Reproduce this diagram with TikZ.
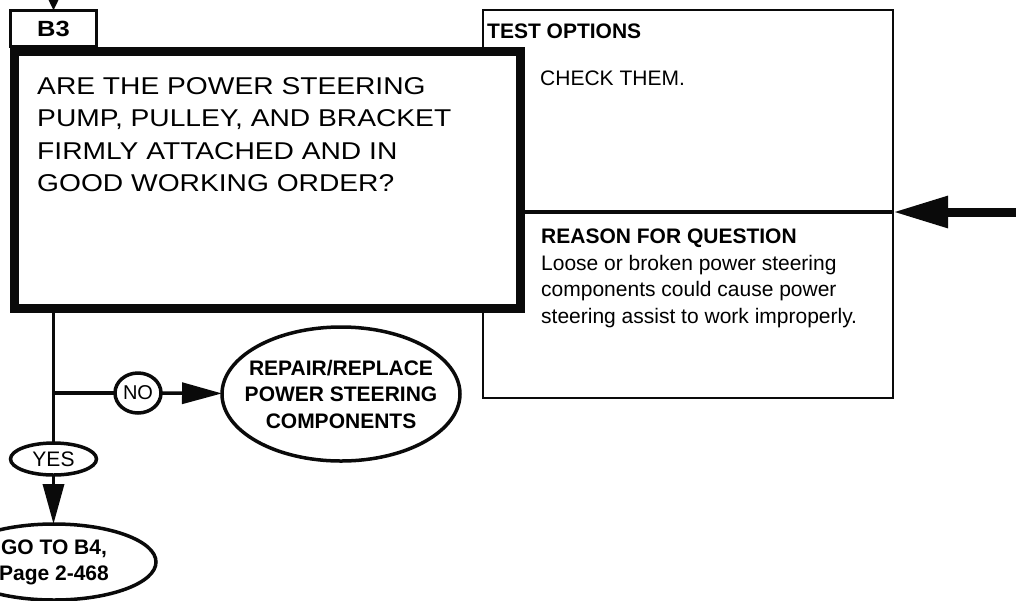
\documentclass[tikz,border=0pt]{standalone}
\usepackage{fontspec}
\setmainfont{Liberation Sans}
\newfontfamily\wideface[FakeStretch=1.16]{Liberation Sans}
\usepackage{xcolor}
\definecolor{cInk}{HTML}{0A0A0A}
\usetikzlibrary{positioning,arrows.meta,shapes.geometric}
\tikzset{
  node-tab/.style={draw=cInk,line width=2.5pt,minimum width=86pt,minimum height=36pt,
    inner sep=0pt,outer sep=0pt,font=\wideface\bfseries\fontsize{22}{24}\selectfont},
  node-question/.style={draw=cInk,line width=9pt,fill=white,minimum width=506pt,
    minimum height=257pt,inner sep=0pt,outer sep=0pt},
  node-panel/.style={draw=cInk,line width=2.5pt,minimum width=410pt,inner sep=0pt,outer sep=0pt},
  node-oval/.style={draw=cInk,ellipse,line width=3.5pt,inner sep=0pt,outer sep=0pt,align=center},
  text-question/.style={anchor=north west,align=left,inner sep=0pt,
    font=\wideface\fontsize{24.3}{32.5}\selectfont},
  text-head/.style={anchor=west,inner sep=0pt,font=\bfseries\fontsize{21}{24}\selectfont},
  text-plain/.style={anchor=west,inner sep=0pt,font=\fontsize{21}{24}\selectfont},
  text-body/.style={anchor=north west,align=left,inner sep=0pt,font=\fontsize{21}{26.5}\selectfont},
  flow/.style={draw=cInk,line width=3.5pt},
  arrow/.style={-{Triangle[length=40pt,width=21pt]},flow},
  arrow-feed/.style={-{Triangle[length=55pt,width=30pt]},draw=cInk,line width=9pt},
}
\begin{document}
\begin{tikzpicture}[x=1pt,y=-1pt]
  \useasboundingbox (0,0) rectangle (1016,600);
  % side panels first, the question box covers their left edge
  \node[node-panel,minimum height=202pt]                 (opt)    at (688,111) {};
  \node[node-panel,minimum height=186pt,below=0pt of opt] (reason) {};
  \draw[cInk,line width=4.5pt] (opt.south west) -- (opt.south east);
  \node[text-head]  (opt-title)    at (487,31)  {TEST OPTIONS};
  \node[text-plain] (opt-text)     at (540,78)  {CHECK THEM.};
  \node[text-head]  (reason-title) at (541,238) {REASON FOR QUESTION};
  \node[text-body]  (reason-text)  at (541,255)
    {Loose or broken power steering\\components could cause power\\steering assist to work improperly.};
  % step B3
  \node[node-tab]      (tab) at (53.5,28.5) {B3};
  \node[node-question] (q)   at (267.5,180) {};
  \node[text-question] (q-text) at (37,77)
    {ARE THE POWER STEERING\\PUMP, PULLEY, AND BRACKET\\FIRMLY ATTACHED AND IN\\GOOD WORKING ORDER?};
  \coordinate (from-above) at (53.5,-30);
  \coordinate (from-right) at (1030,212);
  \draw[-{Triangle[length=22pt,width=20pt]},flow] (from-above) -- (tab.north);
  \draw[arrow-feed] (from-right) -- (reason.north east);
  % answers
  \node[node-oval,minimum width=46pt,minimum height=40pt,font=\fontsize{20}{22}\selectfont]
    (no) at (138,393) {NO};
  \node[node-oval,minimum width=238pt,minimum height=134pt,inner xsep=-15pt,
    font=\bfseries\fontsize{21}{26.5}\selectfont]
    (repair) at (341,394) {REPAIR/REPLACE\\POWER STEERING\\COMPONENTS};
  \node[node-oval,minimum width=86pt,minimum height=32pt,font=\fontsize{21}{23}\selectfont]
    (yes) at (53.5,459) {YES};
  \node[node-oval,minimum width=204pt,minimum height=76pt,font=\bfseries\fontsize{21}{26}\selectfont]
    (goto) at (54,562) {GO TO B4,\\Page 2-468};
  \draw[flow]  (tab.south |- q.south) -- (yes.north);
  \draw[flow]  (tab.south |- no) -- (no);
  \draw[arrow] (no) -- (repair);
  \draw[arrow] (yes) -- (yes.south |- goto.north);
\end{tikzpicture}
\end{document}
